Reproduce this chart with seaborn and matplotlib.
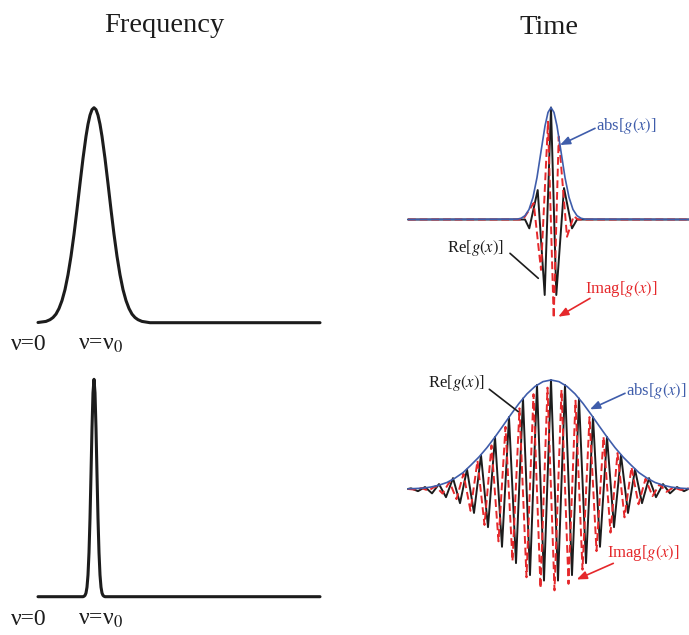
import matplotlib
matplotlib.use("Agg")
import matplotlib.pyplot as plt
import seaborn as sns

# ---------------- data ----------------
# Frequency domain: broad line (top) and narrow line (bottom); nu in arbitrary units, nu0 = 5.6
freq_nu_broad = [0.0, 0.8, 1.2, 1.5, 1.8, 2.1, 2.4, 2.7, 3.0, 3.3, 3.6, 3.9, 4.2, 4.5, 4.8, 5.0, 5.2, 5.4, 5.6,
                 5.8, 6.0, 6.2, 6.4, 6.7, 7.0, 7.3, 7.6, 7.9, 8.2, 8.5, 8.8, 9.1, 9.4, 9.7, 10.0, 10.4, 11.2, 28.2]
freq_amp_broad = [0.001, 0.006, 0.014, 0.024, 0.040, 0.066, 0.103, 0.154, 0.223, 0.309, 0.411, 0.526, 0.647,
                  0.764, 0.867, 0.923, 0.965, 0.991, 1.0,
                  0.991, 0.965, 0.923, 0.867, 0.764, 0.647, 0.526, 0.411, 0.309, 0.223, 0.154, 0.103, 0.066,
                  0.040, 0.024, 0.014, 0.006, 0.0, 0.0]

freq_nu_narrow = [0.0, 4.5, 4.6, 4.7, 4.8, 4.9, 5.0, 5.1, 5.2, 5.3, 5.4, 5.5, 5.6,
                  5.7, 5.8, 5.9, 6.0, 6.1, 6.2, 6.3, 6.4, 6.5, 6.6, 6.7, 28.2]
freq_amp_narrow = [0.0, 0.0, 0.002, 0.006, 0.017, 0.044, 0.10, 0.203, 0.36, 0.563, 0.775, 0.938, 1.0,
                   0.938, 0.775, 0.563, 0.36, 0.203, 0.10, 0.044, 0.017, 0.006, 0.002, 0.0, 0.0]

# Time domain, short packet (top)
t1_env = [-14.3, -3.4, -3.0, -2.6, -2.2, -1.8, -1.4, -1.0, -0.6, -0.3, 0.0,
          0.3, 0.6, 1.0, 1.4, 1.8, 2.2, 2.6, 3.0, 3.4, 13.8]
a1_env = [0.0, 0.003, 0.011, 0.034, 0.089, 0.198, 0.375, 0.607, 0.835, 0.956, 1.0,
          0.956, 0.835, 0.607, 0.375, 0.198, 0.089, 0.034, 0.011, 0.003, 0.0]
t1_re = [-14.3, -2.6, -2.17, -1.33, -0.63, 0.0, 0.53, 1.3, 2.1, 2.6, 13.8]
a1_re = [0.0, 0.0, -0.079, 0.263, -0.674, 1.0, -0.674, 0.281, -0.079, 0.0, 0.0]
t1_im = [-14.3, -2.8, -1.73, -1.0, -0.3, 0.27, 0.77, 1.6, 2.27, 2.7, 13.8]
a1_im = [0.0, 0.0, 0.147, -0.45, 0.873, -0.88, 0.74, -0.154, 0.03, 0.0, 0.0]

# Time domain, long packet (bottom)
t2_env = [-14.3, -13.6, -12.8, -12.0, -11.2, -10.4, -9.6, -8.8, -8.0, -7.2, -6.4, -5.6, -4.8, -4.0,
          -3.2, -2.4, -1.6, -0.8, 0.0, 0.8, 1.6, 2.4, 3.2, 4.0, 4.8, 5.6, 6.4, 7.2, 8.0, 8.8,
          9.6, 10.4, 11.2, 12.0, 12.8, 13.8]
a2_env = [0.002, 0.004, 0.008, 0.018, 0.035, 0.06, 0.10, 0.15, 0.22, 0.294, 0.38, 0.477, 0.58, 0.685,
          0.785, 0.873, 0.941, 0.985, 1.0, 0.985, 0.941, 0.873, 0.785, 0.685, 0.58, 0.477, 0.38, 0.294, 0.22, 0.15,
          0.10, 0.06, 0.035, 0.018, 0.008, 0.003]
t2_re = [-14.3, -14.0, -13.3, -12.6, -11.9, -11.2, -10.5, -9.8, -9.1, -8.4, -7.7, -7.0, -6.3, -5.6,
         -4.9, -4.2, -3.5, -2.8, -2.1, -1.4, -0.7, 0.0, 0.7, 1.4, 2.1, 2.8, 3.5, 4.2, 4.9, 5.6,
         6.3, 7.0, 7.7, 8.4, 9.1, 9.8, 10.5, 11.2, 11.9, 12.6, 13.3, 13.8]
a2_re = [0.0, 0.006, -0.02, 0.018, -0.04, 0.045, -0.075, 0.10, -0.13, 0.18, -0.22, 0.31, -0.35, 0.477,
         -0.53, 0.66, -0.68, 0.83, -0.79, 0.955, -0.84, 1.0, -0.84, 0.955, -0.79, 0.83, -0.68, 0.66, -0.53, 0.477,
         -0.35, 0.31, -0.22, 0.18, -0.13, 0.10, -0.075, 0.045, -0.04, 0.018, -0.02, 0.003]
t2_im = [-14.3, -13.65, -12.95, -12.25, -11.55, -10.85, -10.15, -9.45, -8.75, -8.05, -7.35, -6.65, -5.95,
         -5.25, -4.55, -3.85, -3.15, -2.45, -1.75, -1.05, -0.35, 0.35, 1.05, 1.75, 2.45, 3.15, 3.85,
         4.55, 5.25, 5.95, 6.65, 7.35, 8.05, 8.75, 9.45, 10.15, 10.85, 11.55, 12.25, 12.95, 13.65, 13.8]
a2_im = [0.0, -0.005, 0.008, -0.015, 0.026, -0.042, 0.065, -0.093, 0.14, -0.20, 0.26, -0.33, 0.40,
         -0.48, 0.57, -0.66, 0.74, -0.81, 0.87, -0.91, 0.93, -0.93, 0.91, -0.87, 0.81, -0.74, 0.66,
         -0.57, 0.48, -0.40, 0.33, -0.26, 0.20, -0.14, 0.093, -0.065, 0.042, -0.026, 0.015, -0.008, 0.005, 0.0]

titles = ["Frequency", "Time"]
label_re = r"Re[$\mathit{g(x)}$]"
label_abs = r"abs[$\mathit{g(x)}$]"
label_im = r"Imag[$\mathit{g(x)}$]"

# ---------------- style ----------------
sns.set_style("white")
plt.rcParams["font.family"] = ["Liberation Serif", "DejaVu Serif"]
plt.rcParams["mathtext.fontset"] = "stix"

BLACK = "#1c1c1c"
BLUE = "#3f5dab"
RED = "#e5282b"

W, H = 689, 635
fig = plt.figure(figsize=(W / 100, H / 100), dpi=100)


def axes_px(x0, x1, y_base, y_top):
    ax = fig.add_axes([x0 / W, (H - y_base) / H, (x1 - x0) / W, (y_base - y_top) / H])
    ax.set_axis_off()
    return ax


def draw(ax, x, y, color, lw, dashes=None):
    sns.lineplot(x=x, y=y, ax=ax, color=color, linewidth=lw, sort=False,
                 estimator=None, errorbar=None, clip_on=False)
    line = ax.lines[-1]
    line.set_solid_joinstyle("round")
    if dashes is not None:
        line.set_dashes(dashes)
    return line


# Frequency panels
ax_f1 = axes_px(38, 320, 322.7, 107.7)
ax_f1.set_xlim(0, 28.2); ax_f1.set_ylim(0, 1)
draw(ax_f1, freq_nu_broad, freq_amp_broad, BLACK, 2.2)

ax_f2 = axes_px(38, 320, 596.7, 379.3)
ax_f2.set_xlim(0, 28.2); ax_f2.set_ylim(0, 1)
draw(ax_f2, freq_nu_narrow, freq_amp_narrow, BLACK, 2.2)

for ax, yb in [(ax_f1, -0.127), (ax_f2, -0.13)]:
    ax.text(-2.7, yb, "ν=0", fontsize=17, color=BLACK, ha="left", va="baseline", clip_on=False)
    ax.text(4.0, yb, "ν=ν$_0$", fontsize=17, color=BLACK, ha="left", va="baseline", clip_on=False)

# Time panels
ax_t1 = axes_px(408, 689, 219.5, 107.5)
ax_t1.set_xlim(-14.3, 13.8); ax_t1.set_ylim(0, 1)
draw(ax_t1, t1_re, a1_re, BLACK, 1.4)
draw(ax_t1, t1_im, a1_im, RED, 1.4, dashes=(4, 2))
draw(ax_t1, t1_env, a1_env, BLUE, 1.2)

ax_t2 = axes_px(408, 689, 489, 380)
ax_t2.set_xlim(-14.3, 13.8); ax_t2.set_ylim(0, 1)
draw(ax_t2, t2_re, a2_re, BLACK, 1.4)
draw(ax_t2, t2_im, a2_im, RED, 1.4, dashes=(4, 2))
draw(ax_t2, t2_env, a2_env, BLUE, 1.2)

arrow = dict(arrowstyle="-|>,head_length=0.5,head_width=0.2", mutation_scale=12,
             shrinkA=0, shrinkB=0, lw=1.2)
plain = dict(arrowstyle="-", shrinkA=0, shrinkB=0, lw=1.2)
FS = 12

# annotations top
ax_t1.annotate("", xy=(0.9, 0.665), xytext=(4.4, 0.814), arrowprops=dict(arrow, color=BLUE), annotation_clip=False)
ax_t1.text(4.5, 0.80, label_abs, color=BLUE, fontsize=FS, ha="left", va="baseline", clip_on=False)
ax_t1.annotate("", xy=(-1.27, -0.525), xytext=(-4.1, -0.302), arrowprops=dict(plain, color=BLACK), annotation_clip=False)
ax_t1.text(-10.43, -0.2875, label_re, color=BLACK, fontsize=FS, ha="left", va="baseline", clip_on=False)
ax_t1.annotate("", xy=(0.73, -0.868), xytext=(3.9, -0.704), arrowprops=dict(arrow, color=RED), annotation_clip=False)
ax_t1.text(3.4, -0.659, label_im, color=RED, fontsize=FS, ha="left", va="baseline", clip_on=False)

# annotations bottom
ax_t2.annotate("", xy=(-3.27, 0.709), xytext=(-6.17, 0.915), arrowprops=dict(plain, color=BLACK), annotation_clip=False)
ax_t2.text(-12.27, 0.9385, label_re, color=BLACK, fontsize=FS, ha="left", va="baseline", clip_on=False)
ax_t2.annotate("", xy=(3.9, 0.731), xytext=(7.4, 0.878), arrowprops=dict(arrow, color=BLUE), annotation_clip=False)
ax_t2.text(7.5, 0.862, label_abs, color=BLUE, fontsize=FS, ha="left", va="baseline", clip_on=False)
ax_t2.annotate("", xy=(2.57, -0.83), xytext=(6.23, -0.682), arrowprops=dict(arrow, color=RED), annotation_clip=False)
ax_t2.text(5.57, -0.621, label_im, color=RED, fontsize=FS, ha="left", va="baseline", clip_on=False)

# column titles
fig.text(164 / W, 1 - 32.5 / H, titles[0], fontsize=20.5, color=BLACK, ha="center", va="baseline")
fig.text(549 / W, 1 - 33.5 / H, titles[1], fontsize=20.5, color=BLACK, ha="center", va="baseline")

fig.savefig("out.png", dpi=100, facecolor="white")
